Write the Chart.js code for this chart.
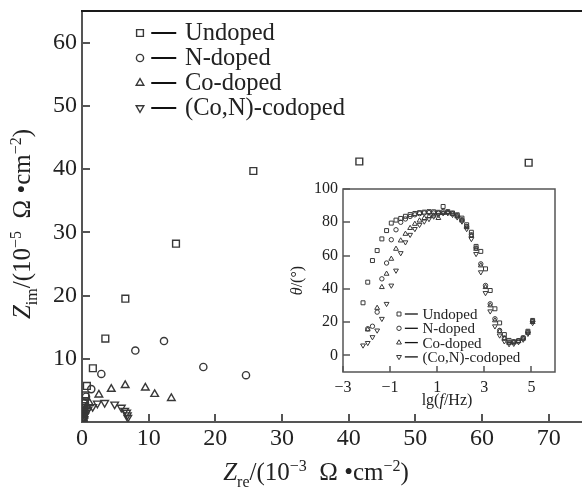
<!DOCTYPE html>
<html>
<head>
<meta charset="utf-8">
<script src="https://cdn.jsdelivr.net/npm/chart.js"></script>
<style>
  html, body { margin: 0; padding: 0; background: #fff; }
  #wrap { position: relative; width: 582px; height: 489px; }
  #main { position: absolute; left: 0; top: 0; }
  #inset { position: absolute; left: 285px; top: 175px; }
</style>
</head>
<body>
<div id="wrap">
  <canvas id="main" width="582" height="489"></canvas>
  <canvas id="inset" width="285" height="240"></canvas>
</div>
<script>
// Sample names
const seriesNames = ['Undoped', 'N-doped', 'Co-doped', '(Co,N)-codoped'];

// Nyquist data: Z_re in 1e-3 ohm cm^-2, Z_im in 1e-5 ohm cm^-2
const undopedRe = [0.15, 0.2, 0.25, 0.3, 0.35, 0.4, 0.5, 0.73, 1.63, 3.5, 6.5, 14.1, 25.7, 41.6, 67.0];
const undopedIm = [0.3, 0.7, 1.2, 1.8, 2.5, 3.3, 4.2, 5.7, 8.5, 13.2, 19.5, 28.2, 39.7, 41.2, 41.0];
const nDopedRe = [0.2, 0.25, 0.3, 0.35, 0.45, 0.6, 1.39, 2.9, 8.0, 12.3, 18.2, 24.6];
const nDopedIm = [0.4, 0.9, 1.5, 2.2, 3.0, 4.0, 5.2, 7.6, 11.3, 12.8, 8.7, 7.4];
const coDopedRe = [0.2, 0.3, 0.4, 0.7, 1.14, 2.53, 4.39, 6.48, 9.5, 10.9, 13.4];
const coDopedIm = [0.5, 1.0, 1.8, 2.5, 2.95, 4.3, 5.2, 5.8, 5.4, 4.4, 3.75];
const coNRe = [0.3, 0.4, 0.6, 0.9, 1.6, 2.3, 3.4, 4.9, 5.9, 6.4, 6.7, 6.8, 6.87];
const coNIm = [0.5, 1.0, 1.5, 2.0, 2.4, 2.95, 3.05, 2.8, 2.3, 1.8, 1.5, 1.1, 0.7];

// Bode phase data: lg(f/Hz) vs theta in degrees
const lgF = [-2.15, -1.95, -1.75, -1.55, -1.35, -1.15, -0.95, -0.75, -0.55, -0.35, -0.15, 0.05,
  0.25, 0.45, 0.65, 0.85, 1.05, 1.25, 1.45, 1.65, 1.85, 2.05, 2.25, 2.45, 2.65, 2.85, 3.05,
  3.25, 3.45, 3.65, 3.85, 4.05, 4.25, 4.45, 4.65, 4.85, 5.05];
const thetaUndoped = [31.6, 44, 57, 63, 70, 75, 79.5, 81.3, 82.3, 83.6, 84.6, 85.3,
  85.8, 86.1, 86.4, 86.3, 86.0, 89.5, 86.4, 85.6, 84.5, 82.5, 78.5, 74, 65.5, 62.5, 52,
  39, 28, 19.5, 12.5, 9, 8.2, 8.8, 10.5, 14.5, 21];
const thetaNDoped = [null, 16, 17.5, 26, 46, 55.5, 69.5, 75.5, 80, 82, 83.5, 84.5,
  85.2, 85.6, 85.8, 85.6, 85.4, 86.5, 86, 85.2, 84, 81.5, 77.5, 72.5, 64.5, 55, 42,
  31, 22, 15, 10.5, 8, 8, 8.8, 10.5, 14, 20.5];
const thetaCoDoped = [null, 15.5, null, 28.5, 41, 49, 58, 64, 69, 73, 76.5, 79,
  81, 82.5, 83.5, 84, 82.5, 85.5, 85.8, 85, 83.5, 81, 77, 72, 64, 54, 41,
  30, 21, 14.5, 10, 7.5, 7.8, 8.5, 10, 13.5, 20];
const thetaCoN = [6, 7.5, 11, 15, 22, 31, 42, 51, 61.5, 68, 72.5, 76,
  78.5, 80.5, 82, 83.5, 84.5, 85.5, 85.5, 84.5, 83, 80.5, 76, 70, 61, 50, 37.5,
  26.5, 17.5, 12, 8.5, 6.8, 7, 8, 9.5, 13, 19.5];

// Tick values
const mainXTicks = [0, 10, 20, 30, 40, 50, 60, 70];
const mainYTicks = [10, 20, 30, 40, 50, 60];
const insetXTicks = [-3, -1, 1, 3, 5];
const insetYTicks = [0, 20, 40, 60, 80, 100];

const SERIF = '"Liberation Serif", "Times New Roman", serif';
const INK = '#222';
const MARK = '#383838';

const markers = [
  { pointStyle: 'rect', rotation: 0, main: 4.8, small: 2.8 },
  { pointStyle: 'circle', rotation: 0, main: 3.6, small: 2.2 },
  { pointStyle: 'triangle', rotation: 0, main: 4.4, small: 2.8 },
  { pointStyle: 'triangle', rotation: 180, main: 4.4, small: 2.8 },
];

const toPts = (xs, ys) => xs.map((v, i) => ({ x: v, y: ys[i] })).filter(p => p.y !== null);

function drawMarker(ctx, m, r, bw, x, y) {
  ctx.save();
  ctx.strokeStyle = MARK;
  ctx.fillStyle = 'rgba(0,0,0,0)';
  ctx.lineWidth = bw;
  Chart.helpers.drawPoint(ctx, { pointStyle: m.pointStyle, rotation: m.rotation, radius: r, borderWidth: bw }, x, y);
  ctx.restore();
}

// text made of runs, with sub/superscripts, centred on (cx, cy)
function drawRich(ctx, runs, cx, cy, size, angle) {
  const fontOf = r => (r.italic ? 'italic ' : '') + ((r.sub || r.sup) ? Math.round(size * 0.62) : size) + 'px ' + SERIF;
  let total = 0;
  const widths = runs.map(r => { ctx.font = fontOf(r); const w = ctx.measureText(r.t).width; total += w; return w; });
  ctx.save();
  ctx.translate(cx, cy);
  ctx.rotate(angle || 0);
  ctx.textAlign = 'left';
  ctx.textBaseline = 'alphabetic';
  ctx.fillStyle = INK;
  let xp = -total / 2;
  runs.forEach((r, i) => {
    ctx.font = fontOf(r);
    const dy = r.sub ? size * 0.25 : r.sup ? -size * 0.38 : 0;
    ctx.fillText(r.t, xp, size * 0.33 + dy);
    xp += widths[i];
  });
  ctx.restore();
}

function drawLegend(ctx, x0, y0, rowH, lineLen, size, small, lw) {
  ctx.save();
  seriesNames.forEach((name, i) => {
    const y = y0 + i * rowH;
    const m = markers[i];
    drawMarker(ctx, m, small ? m.small : m.main, small ? 1 : 1.4, x0, y);
    ctx.strokeStyle = '#111';
    ctx.lineWidth = lw;
    ctx.beginPath();
    ctx.moveTo(x0 + lineLen * 0.45, y);
    ctx.lineTo(x0 + lineLen * 1.45, y);
    ctx.stroke();
    ctx.fillStyle = INK;
    ctx.font = size + 'px ' + SERIF;
    ctx.textAlign = 'left';
    ctx.textBaseline = 'middle';
    ctx.fillText(name, x0 + lineLen * 1.8, y + 1);
  });
  ctx.restore();
}

const mainDecor = {
  id: 'mainDecor',
  afterDraw(chart) {
    const { ctx, chartArea: a, scales: { x, y } } = chart;
    ctx.save();
    ctx.strokeStyle = '#1a1a1a';
    ctx.lineWidth = 2;
    ctx.beginPath();
    ctx.moveTo(a.left - 1, a.top);
    ctx.lineTo(a.right, a.top);
    ctx.stroke();
    ctx.strokeStyle = '#555';
    ctx.lineWidth = 2;
    ctx.beginPath();
    mainXTicks.forEach(v => {
      if (v === 0) return;
      const px = Math.round(x.getPixelForValue(v));
      ctx.moveTo(px, a.bottom);
      ctx.lineTo(px, a.bottom - 8);
    });
    mainYTicks.forEach(v => {
      const py = Math.round(y.getPixelForValue(v));
      ctx.moveTo(a.left, py);
      ctx.lineTo(a.left + 8, py);
    });
    ctx.stroke();
    ctx.restore();

    drawLegend(ctx, 140, 33, 25, 25, 24.5, false, 2);

    drawRich(ctx, [
      { t: 'Z', italic: true }, { t: 're', sub: true }, { t: '/(10' }, { t: '\u22123', sup: true },
      { t: '  \u03A9 \u2022cm' }, { t: '\u22122', sup: true }, { t: ')' }
    ], 316, 472, 25, 0);
    drawRich(ctx, [
      { t: 'Z', italic: true }, { t: 'im', sub: true }, { t: '/(10' }, { t: '\u22125', sup: true },
      { t: '  \u03A9 \u2022cm' }, { t: '\u22122', sup: true }, { t: ')' }
    ], 22, 224, 25, -Math.PI / 2);
  }
};

const insetDecor = {
  id: 'insetDecor',
  afterDraw(chart) {
    const { ctx, chartArea: a, scales: { x, y } } = chart;
    ctx.save();
    ctx.strokeStyle = '#555';
    ctx.lineWidth = 1.5;
    ctx.strokeRect(a.left, a.top, a.right - a.left, a.bottom - a.top);
    ctx.beginPath();
    insetXTicks.forEach(v => {
      const px = Math.round(x.getPixelForValue(v));
      ctx.moveTo(px, a.bottom);
      ctx.lineTo(px, a.bottom - 6);
    });
    insetYTicks.forEach(v => {
      const py = Math.round(y.getPixelForValue(v));
      ctx.moveTo(a.left, py);
      ctx.lineTo(a.left + 7, py);
    });
    ctx.stroke();
    ctx.restore();

    drawLegend(ctx, 114, 139, 14.3, 13, 15, true, 1.3);

    drawRich(ctx, [{ t: 'lg(' }, { t: 'f', italic: true }, { t: '/Hz)' }],
      (a.left + a.right) / 2 - 2, 225, 16, 0);
    drawRich(ctx, [{ t: '\u03B8', italic: true }, { t: '/(\u00B0)' }],
      12, (a.top + a.bottom) / 2, 16, -Math.PI / 2);
  }
};

const fixTicks = list => scale => { scale.ticks = list.map(v => ({ value: v })); };

new Chart(document.getElementById('main'), {
  type: 'scatter',
  data: {
    datasets: [
      toPts(undopedRe, undopedIm), toPts(nDopedRe, nDopedIm),
      toPts(coDopedRe, coDopedIm), toPts(coNRe, coNIm)
    ].map((pts, i) => ({
      label: seriesNames[i],
      data: pts,
      pointStyle: markers[i].pointStyle,
      rotation: markers[i].rotation,
      pointRadius: markers[i].main,
      borderWidth: 1.4,
      borderColor: MARK,
      backgroundColor: 'rgba(0,0,0,0)',
    }))
  },
  options: {
    responsive: false,
    animation: false,
    layout: { autoPadding: false, padding: { top: 11, right: 0, left: 0, bottom: 0 } },
    plugins: { legend: { display: false }, tooltip: { enabled: false } },
    scales: {
      x: {
        type: 'linear', min: 0, max: 75,
        afterBuildTicks: fixTicks(mainXTicks),
        afterFit: s => { s.height = 67; s.paddingLeft = 0; s.paddingRight = 0; },
        grid: { display: false, drawTicks: false },
        border: { color: '#555', width: 2 },
        ticks: { padding: 2, color: INK, font: { family: SERIF, size: 24 } }
      },
      y: {
        type: 'linear', min: 0, max: 65,
        afterBuildTicks: fixTicks(mainYTicks),
        afterFit: s => { s.width = 82; s.paddingTop = 0; s.paddingBottom = 0; },
        grid: { display: false, drawTicks: false },
        border: { color: '#555', width: 2 },
        ticks: { padding: 5, color: INK, font: { family: SERIF, size: 24 } }
      }
    }
  },
  plugins: [mainDecor]
});

new Chart(document.getElementById('inset'), {
  type: 'scatter',
  data: {
    datasets: [thetaUndoped, thetaNDoped, thetaCoDoped, thetaCoN].map((ys, i) => ({
      label: seriesNames[i],
      data: toPts(lgF, ys),
      pointStyle: markers[i].pointStyle,
      rotation: markers[i].rotation,
      pointRadius: markers[i].small,
      borderWidth: 1,
      borderColor: MARK,
      backgroundColor: 'rgba(0,0,0,0)',
    }))
  },
  options: {
    responsive: false,
    animation: false,
    layout: { autoPadding: false, padding: { top: 14, right: 15, left: 0, bottom: 0 } },
    plugins: { legend: { display: false }, tooltip: { enabled: false } },
    scales: {
      x: {
        type: 'linear', min: -3, max: 6,
        afterBuildTicks: fixTicks(insetXTicks),
        afterFit: s => { s.height = 43; s.paddingLeft = 0; s.paddingRight = 0; },
        grid: { display: false, drawTicks: false },
        border: { display: false },
        ticks: { padding: 6, color: INK, font: { family: SERIF, size: 16 },
          callback: v => String(v).replace('-', '\u2212') }
      },
      y: {
        type: 'linear', min: -10, max: 100,
        afterBuildTicks: fixTicks(insetYTicks),
        afterFit: s => { s.width = 58; s.paddingTop = 0; s.paddingBottom = 0; },
        grid: { display: false, drawTicks: false },
        border: { display: false },
        ticks: { padding: 5, color: INK, font: { family: SERIF, size: 16 } }
      }
    }
  },
  plugins: [insetDecor]
});
</script>
</body>
</html>
